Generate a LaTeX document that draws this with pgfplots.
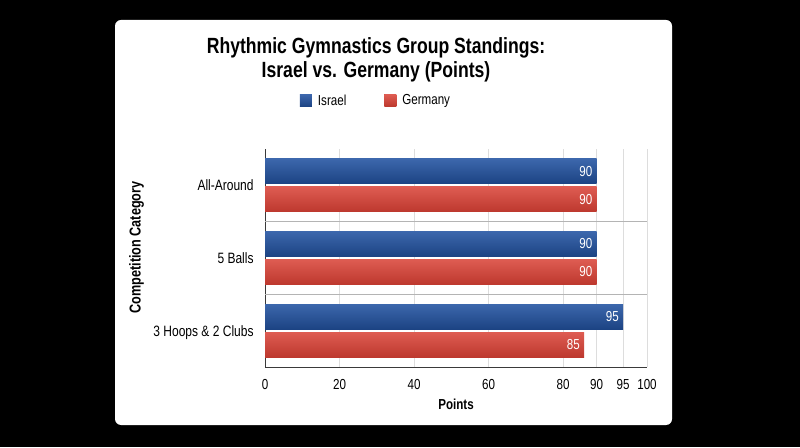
\documentclass[border=0pt]{standalone}
\usepackage{fontspec}
\setmainfont{Liberation Sans}[FakeStretch=0.80]
\usepackage{pgfplots}
\pgfplotsset{compat=1.18}
\definecolor{israelTop}{HTML}{3C67AC}
\definecolor{israelBot}{HTML}{1C4383}
\definecolor{germanyTop}{HTML}{DE5C52}
\definecolor{germanyBot}{HTML}{BD382E}
\definecolor{gridgray}{HTML}{DDDDDD}
\definecolor{sepgray}{HTML}{B4B4B4}
\definecolor{axisgray}{HTML}{3A3A3A}
\begin{document}
\begin{tikzpicture}[x=1pt,y=1pt]
\fill[black] (0,0) rectangle (800,447);
\fill[white, rounded corners=6pt] (115,22) rectangle (672,427);
\node[anchor=base, font=\bfseries\fontsize{22}{24}\selectfont] at (376,393) {Rhythmic Gymnastics Group Standings:};
\node[anchor=base, font=\bfseries\fontsize{22}{24}\selectfont] at (376,369) {Israel vs. Germany (Points)};
\begin{axis}[
  at={(265pt,80pt)}, anchor=south west,
  scale only axis, width=382pt, height=218pt,
  xmin=0, xmax=100, ymin=-0.5, ymax=2.5,
  x coord trafo/.code={\pgfmathparse{(3.725*min(#1,80)+4.2*max(0,min(#1,85)-80)+2.5*max(0,min(#1,90)-85)+5.3*max(0,min(#1,95)-90)+4.8*max(0,#1-95))/3.82}},
  axis x line=bottom, axis y line=left,
  axis line style={-, draw=axisgray, line width=0.9pt},
  xtick={0,20,40,60,80,90,95,100},
  xticklabels={0,20,40,60,80,90,95,100},
  xtick style={draw=none},
  xmajorgrids, major grid style={draw=gridgray, line width=0.8pt},
  ytick={0,1,2},
  yticklabels={3 Hoops \& 2 Clubs, 5 Balls, All-Around},
  ytick style={draw=none},
  extra y ticks={0.5,1.5},
  extra y tick labels={},
  extra y tick style={ymajorgrids, major grid style={draw=sepgray, line width=0.8pt}, tick style={draw=sepgray, line width=0.8pt}, major tick length=115pt, tick align=outside},
  xticklabel style={font=\fontsize{14.5}{16}\selectfont, anchor=base, yshift=-20pt, inner sep=0pt},
  yticklabel style={font=\fontsize{15}{17}\selectfont, anchor=base east, inner sep=0pt, xshift=-7pt, yshift=-5.5pt},
  xlabel={Points},
  xlabel style={font=\bfseries\fontsize{14.5}{16}\selectfont, at={(axis description cs:0.5,0)}, anchor=center, yshift=-37pt},
  ylabel={Competition Category},
  ylabel style={font=\bfseries\fontsize{15.8}{17}\selectfont, at={(axis description cs:-0.3364,0.548)}, anchor=center},
  xbar, bar width=25pt,
  point meta=explicit symbolic,
  nodes near coords,
  every node near coord/.append style={anchor=east, text=white, font=\fontsize{14.5}{16}\selectfont, inner sep=2pt, xshift=-2pt},
  legend style={at={(axis description cs:0.2906,1)}, anchor=center, yshift=48.5pt, draw=none, fill=none, font=\fontsize{14.5}{17}\selectfont, /tikz/every even column/.append style={column sep=36pt}, /tikz/every odd column/.append style={column sep=4pt}},
  legend columns=2,
  israel/.style={draw=none, top color=israelTop, bottom color=israelBot, bar shift=14pt},
  germany/.style={draw=none, top color=germanyTop, bottom color=germanyBot, bar shift=-14pt},
]
\addplot[israel, legend image code/.code={\fill[israelBot!65!israelTop] (0pt,-6pt) rectangle (12pt,6pt);}]
  coordinates {(90,2) [90]};
\addlegendentry{Israel}
\addplot[germany, legend image code/.code={\fill[germanyBot!55!germanyTop] (0pt,-6pt) rectangle (12pt,6pt);}]
  coordinates {(90,2) [90]};
\addlegendentry{Germany}
\addplot[israel, forget plot] coordinates {(90,1) [90]};
\addplot[germany, forget plot] coordinates {(90,1) [90]};
\addplot[israel, forget plot] coordinates {(95,0) [95]};
\addplot[germany, forget plot] coordinates {(85,0) [85]};
\end{axis}
\end{tikzpicture}
\end{document}
